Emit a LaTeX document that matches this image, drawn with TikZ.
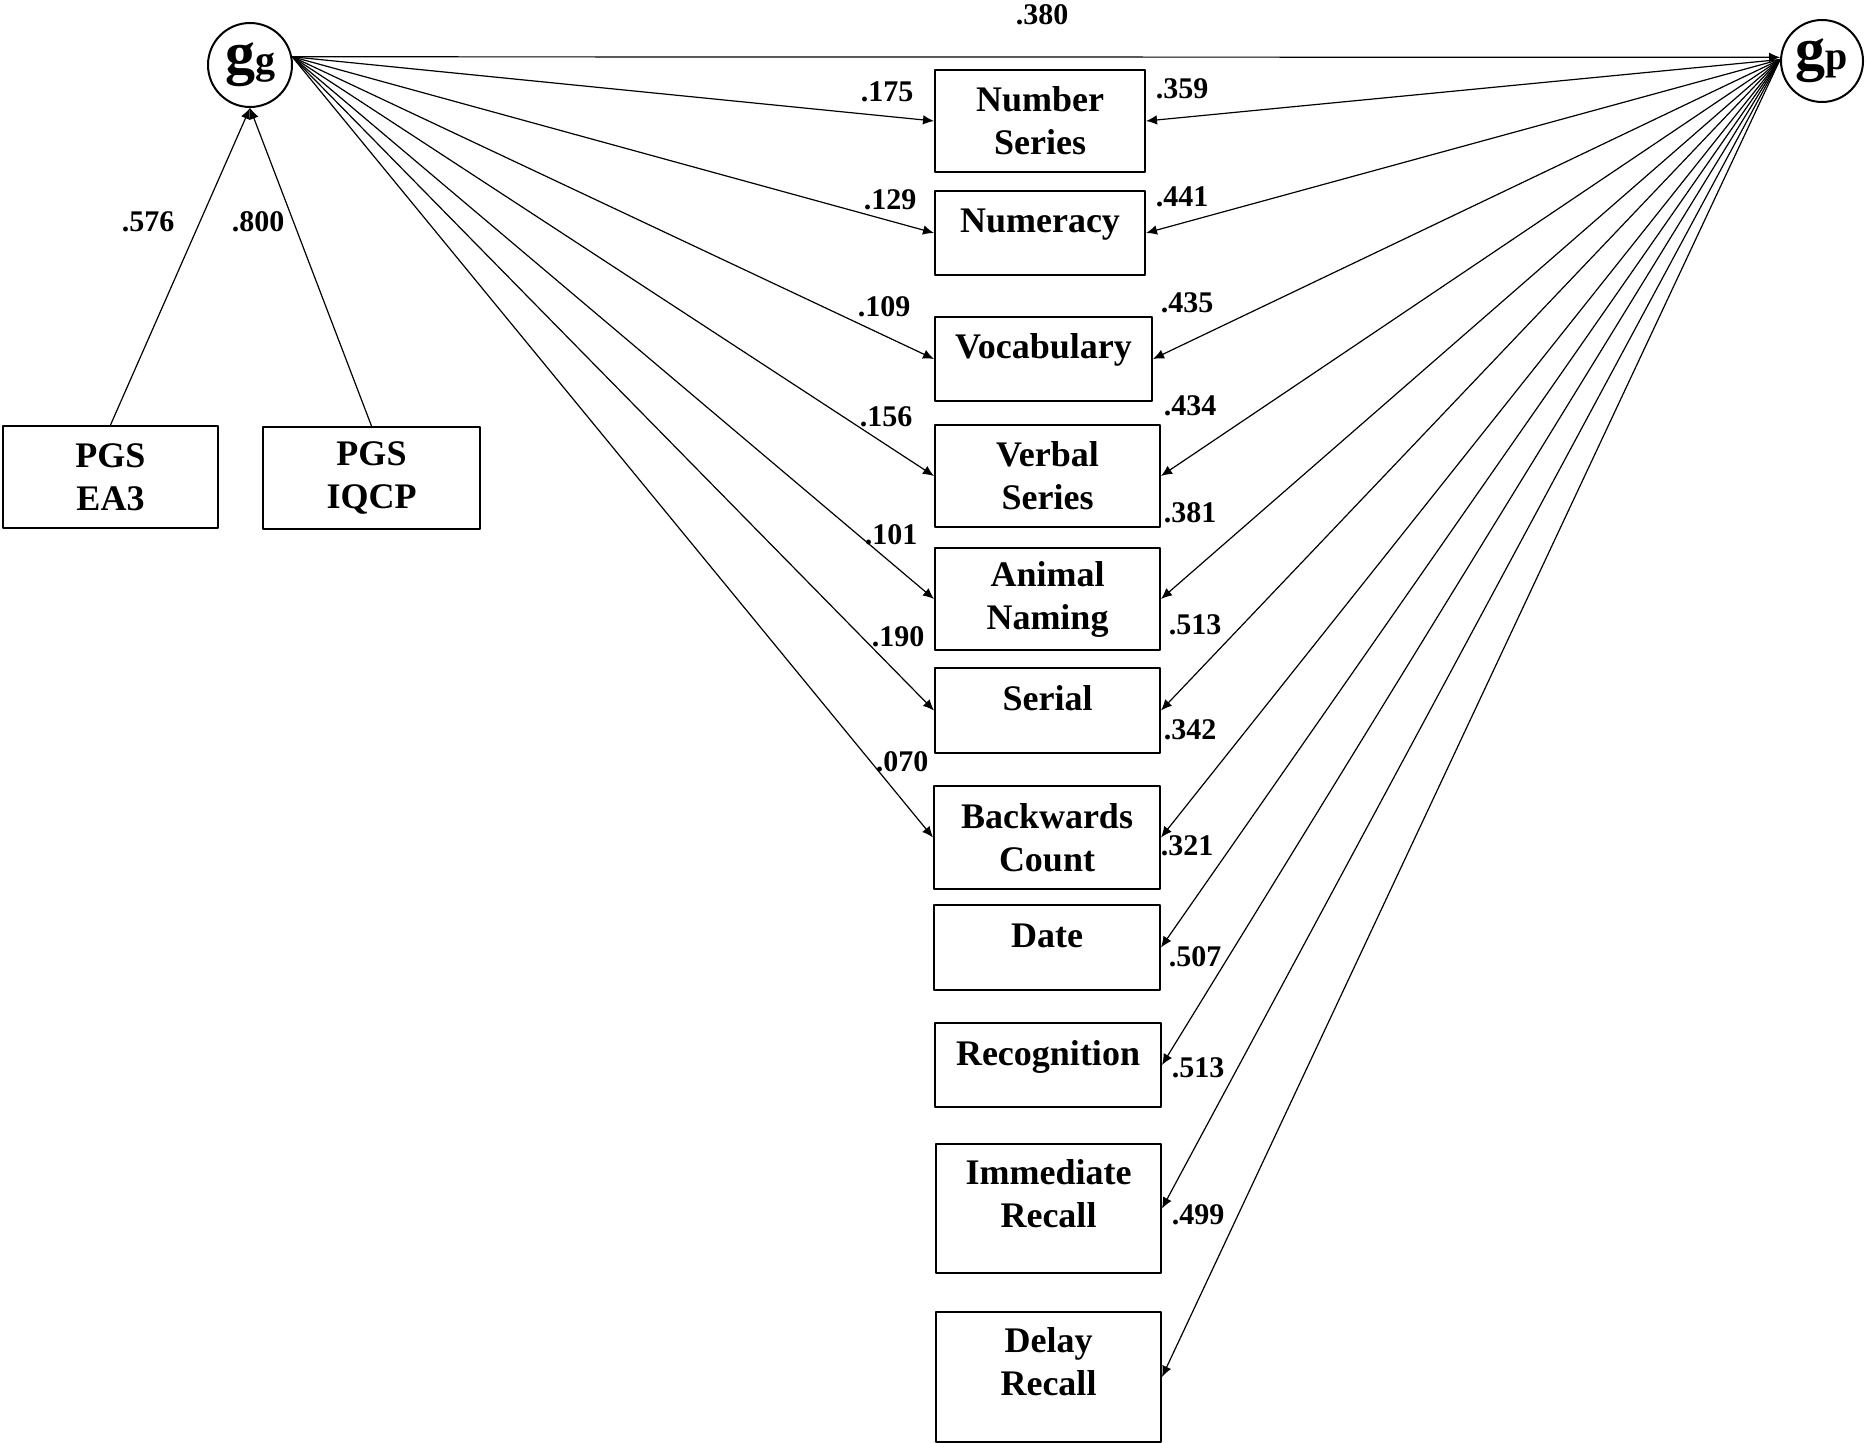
\documentclass[tikz,border=0pt]{standalone}
\usepackage{fontspec}
\setmainfont{Liberation Serif}
\usetikzlibrary{arrows.meta}
\tikzset{
  obs/.style={draw,line width=1pt,inner sep=0pt,align=center,
    font=\bfseries\fontsize{18}{21.5}\selectfont},
  onetop/.style={text height=0pt,text depth=0pt},
  twotop/.style={text height=18.5pt,text depth=0pt},
  latent/.style={draw,circle,line width=1pt,inner sep=0pt,font=\bfseries},
  coef/.style={inner sep=0pt,font=\bfseries\fontsize{15}{18}\selectfont}
}
\newcommand{\latname}[2]{{\fontsize{30}{31}\selectfont #1}{\fontsize{20}{22}\selectfont #2}}
\begin{document}
\begin{tikzpicture}[line cap=round,line join=round,>={Latex[length=5.5pt,width=4.8pt]},x=.5pt,y=-.5pt,line width=.6pt]
\useasboundingbox (0,0) rectangle (1867,1443);
% latent factors
\node[latent,minimum size=42pt] (gg) at (250,65) {\latname{g}{g}};
\node[latent,minimum size=41pt] (gp) at (1822,61) {\latname{g}{p}};
% polygenic scores
\node[obs,minimum width=107.5pt,minimum height=51pt] (ea3) at (110.5,477) {PGS\\EA3};
\node[obs,minimum width=108.5pt,minimum height=51pt] (iqcp) at (371.5,478) {PGS\\IQCP};
% cognitive tests
\node[obs,minimum width=105pt,minimum height=51pt] (ns) at (1040,121) {Number\\Series};
\node[obs,onetop,minimum width=105pt,minimum height=42pt] (num) at (1040,233) {Numeracy};
\node[obs,onetop,minimum width=108.5pt,minimum height=42pt] (voc) at (1043.5,359) {Vocabulary};
\node[obs,minimum width=112.5pt,minimum height=51pt] (verb) at (1047.5,476) {Verbal\\Series};
\node[obs,minimum width=112.5pt,minimum height=51pt] (anim) at (1047.5,599) {Animal\\Naming};
\node[obs,onetop,minimum width=112.5pt,minimum height=42.5pt] (ser) at (1047.5,710.5) {Serial};
\node[obs,minimum width=113pt,minimum height=51.5pt] (back) at (1047,837.5) {Backwards\\Count};
\node[obs,onetop,minimum width=113pt,minimum height=42.5pt] (date) at (1047,947.5) {Date};
\node[obs,onetop,minimum width=113pt,minimum height=42pt] (rec) at (1048,1065) {Recognition};
\node[obs,twotop,minimum width=112.5pt,minimum height=64.5pt] (imm) at (1048.5,1208.5) {Immediate\\Recall};
\node[obs,twotop,minimum width=112.5pt,minimum height=65pt] (del) at (1048.5,1377) {Delay\\Recall};
% PGS -> gg
\draw[->] (ea3.north) -- (gg.south);
\draw[->] (iqcp.north) -- (gg.south);
\node[coef] (cea3) at (148,222) {.576};
\node[coef] (ciqcp) at (258,222) {.800};
% gg -> gp
\draw[->] (gg.11) -- (gp.175);
\node[coef] (cgp) at (1042,15) {.380};
% gg -> tests
\draw[->] (gg.11) -- (ns.west);
\draw[->] (gg.11) -- (num.west);
\draw[->] (gg.11) -- (voc.west);
\draw[->] (gg.11) -- (verb.west);
\draw[->] (gg.11) -- (anim.west);
\draw[->] (gg.11) -- (ser.west);
\draw[->] (gg.11) -- (back.west);
\node[coef] (gns) at (887,92) {.175};
\node[coef] (gnum) at (890,200) {.129};
\node[coef] (gvoc) at (884,307) {.109};
\node[coef] (gverb) at (886,417) {.156};
\node[coef] (ganim) at (891,535) {.101};
\node[coef] (gser) at (898,637) {.190};
\node[coef] (gback) at (902,762) {.070};
% gp -> tests
\draw[->] (gp.178) -- (ns.east);
\draw[->] (gp.178) -- (num.east);
\draw[->] (gp.178) -- (voc.east);
\draw[->] (gp.178) -- (verb.east);
\draw[->] (gp.178) -- (anim.east);
\draw[->] (gp.178) -- (ser.east);
\draw[->] (gp.178) -- (back.east);
\draw[->] (gp.178) -- (date.east);
\draw[->] (gp.178) -- (rec.east);
\draw[->] (gp.178) -- (imm.east);
\draw[->] (gp.178) -- (del.east);
\node[coef] (pns) at (1182,89) {.359};
\node[coef] (pnum) at (1182,197) {.441};
\node[coef] (pvoc) at (1187,303) {.435};
\node[coef] (pverb) at (1190,406) {.434};
\node[coef] (panim) at (1190,513) {.381};
\node[coef] (pser) at (1195,625) {.513};
\node[coef] (pback) at (1190,730) {.342};
\node[coef] (pdate) at (1187,846) {.321};
\node[coef] (prec) at (1195,957) {.507};
\node[coef] (pimm) at (1198,1068) {.513};
\node[coef] (pdel) at (1198,1215) {.499};
\end{tikzpicture}
\end{document}
